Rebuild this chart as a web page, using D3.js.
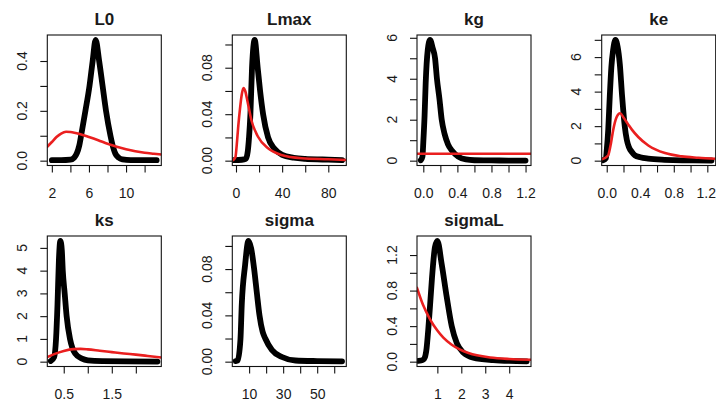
<!DOCTYPE html>
<html>
<head>
<meta charset="utf-8">
<script src="https://cdn.jsdelivr.net/npm/d3@7"></script>
<style>
  html, body { margin: 0; padding: 0; background: #fff; }
  svg { display: block; }
  text { font-family: "Liberation Sans", Arial, Helvetica, sans-serif; fill: #1a1a1a; }
</style>
</head>
<body>
<svg id="chart" width="716" height="403"></svg>
<script>
// ---------- panel names ----------
const panelNames = ["L0", "Lmax", "kg", "ke", "ks", "sigma", "sigmaL"];

// ---------- posterior (black) series ----------
const L0_postX = [2, 3, 4, 4.4, 4.7, 4.95, 5.2, 5.62, 6.06, 6.4, 6.72, 7.1, 7.47, 7.84, 8.32, 8.6, 8.85, 9.2, 9.6, 10.5, 12, 13.3];
const L0_postY = [0.002, 0.002, 0.004, 0.012, 0.03, 0.06, 0.11, 0.2, 0.3, 0.4, 0.485, 0.4, 0.3, 0.2, 0.1, 0.055, 0.028, 0.012, 0.005, 0.002, 0.002, 0.002];
const Lmax_postX = [-2, 5, 8.5, 10.2, 11.3, 12.5, 13.9, 16.2, 18.8, 20.9, 23.5, 27.8, 33.6, 40, 50, 60, 75, 92];
const Lmax_postY = [0.0005, 0.0008, 0.0015, 0.008, 0.02, 0.04, 0.08, 0.104, 0.08, 0.06, 0.04, 0.02, 0.01, 0.005, 0.0025, 0.0015, 0.001, 0.0005];
const kg_postX = [-0.03, -0.01, 0.0, 0.015, 0.028, 0.052, 0.079, 0.11, 0.138, 0.16, 0.19, 0.216, 0.25, 0.29, 0.334, 0.41, 0.5, 0.6, 0.8, 1.0, 1.2];
const kg_postY = [0.02, 0.2, 0.9, 2.2, 3.8, 5.4, 5.9, 5.5, 5.0, 4.0, 3.0, 2.0, 1.3, 0.8, 0.5, 0.2, 0.06, 0.02, 0.01, 0.005, 0.003];
const ke_postX = [-0.045, -0.01, 0.0, 0.018, 0.036, 0.055, 0.076, 0.104, 0.13, 0.156, 0.184, 0.216, 0.24, 0.264, 0.3, 0.336, 0.4, 0.495, 0.69, 0.9, 1.25];
const ke_postY = [0.02, 0.15, 0.6, 1.8, 3.7, 5.4, 6.4, 7.0, 6.6, 5.6, 3.7, 1.95, 1.2, 0.79, 0.5, 0.31, 0.2, 0.12, 0.05, 0.02, 0.01];
const ks_postX = [0.23, 0.3, 0.34, 0.37, 0.4, 0.43, 0.46, 0.48, 0.52, 0.56, 0.63, 0.68, 0.74, 0.88, 1.0, 1.3, 1.8, 2.45];
const ks_postY = [0.03, 0.2, 1.0, 2.5, 4.5, 5.31, 4.9, 4.0, 3.0, 2.0, 1.0, 0.6, 0.35, 0.13, 0.06, 0.02, 0.01, 0.005];
const sigma_postX = [2.1, 3.3, 4.9, 5.7, 7.6, 9.6, 11.2, 12.96, 14.5, 16.1, 17.9, 19.5, 23.4, 29.3, 37.2, 50, 64.6];
const sigma_postY = [0.0005, 0.001, 0.019, 0.05, 0.083, 0.1044, 0.098, 0.08, 0.06, 0.04, 0.026, 0.02, 0.01, 0.004, 0.001, 0.0005, 0.0003];
const sigmaL_postX = [0.21, 0.4, 0.48, 0.55, 0.62, 0.7, 0.77, 0.9, 1.0, 1.18, 1.39, 1.6, 1.81, 2.09, 2.5, 3.33, 4.0, 4.73];
const sigmaL_postY = [0.01, 0.02, 0.05, 0.15, 0.36, 0.65, 0.92, 1.29, 1.36, 1.1, 0.73, 0.4, 0.21, 0.1, 0.045, 0.018, 0.008, 0.004];

// ---------- prior (red) series ----------
const L0_priorX = [1.5, 2, 2.5, 3, 3.53, 4, 5, 6, 7, 8, 9, 10, 11, 12, 13, 13.8];
const L0_priorY = [0.056, 0.075, 0.095, 0.109, 0.116, 0.115, 0.107, 0.095, 0.082, 0.068, 0.056, 0.046, 0.038, 0.032, 0.028, 0.025];
const Lmax_priorX = [-2.6, -0.5, 0.6, 2, 3.5, 5, 6.5, 8, 10, 13.3, 19.1, 27.8, 39.4, 56.8, 80, 95.6];
const Lmax_priorY = [0.0005, 0.003, 0.013, 0.03, 0.045, 0.057, 0.0625, 0.06, 0.051, 0.035, 0.0206, 0.0106, 0.0049, 0.0021, 0.0012, 0.0006];
const kg_priorX = [-0.074, 1.264];
const kg_priorY = [0.335, 0.335];
const ke_priorX = [-0.065, 0.016, 0.05, 0.076, 0.116, 0.16, 0.2, 0.256, 0.3, 0.376, 0.496, 0.695, 0.894, 1.094, 1.3];
const ke_priorY = [0.06, 0.3, 1.0, 1.75, 2.5, 2.75, 2.5, 2.1, 1.8, 1.37, 0.88, 0.44, 0.25, 0.17, 0.11];
const ks_priorX = [0.158, 0.3, 0.5, 0.7, 0.85, 1.0, 1.25, 1.5, 1.75, 2.0, 2.25, 2.53];
const ks_priorY = [0.2, 0.33, 0.47, 0.55, 0.56, 0.54, 0.48, 0.42, 0.36, 0.31, 0.25, 0.18];
const sigmaL_priorX = [0.15, 0.4, 0.69, 1.0, 1.25, 1.6, 1.95, 2.3, 2.65, 3.2, 4.0, 4.91];
const sigmaL_priorY = [0.83, 0.64, 0.48, 0.35, 0.27, 0.19, 0.135, 0.098, 0.072, 0.047, 0.03, 0.022];

// ---------- x limits ----------
const L0_xlim = [1.51, 13.8];
const Lmax_xlim = [-3.2, 95.6];
const kg_xlim = [-0.074, 1.264];
const ke_xlim = [-0.06, 1.30];
const ks_xlim = [0.158, 2.53];
const sigma_xlim = [0.12, 67.1];
const sigmaL_xlim = [0.15, 4.91];

// ---------- ticks and labels ----------
const L0_xTicks = [2, 4, 6, 8, 10, 12];          const L0_xLabels = ["2", "", "6", "", "10", ""];
const L0_yTicks = [0, 0.1, 0.2, 0.3, 0.4];       const L0_yLabels = ["0.0", "", "0.2", "", "0.4"];
const Lmax_xTicks = [0, 20, 40, 60, 80];         const Lmax_xLabels = ["0", "", "40", "", "80"];
const Lmax_yTicks = [0, 0.02, 0.04, 0.06, 0.08, 0.10]; const Lmax_yLabels = ["0.00", "", "0.04", "", "0.08", ""];
const kg_xTicks = [0, 0.2, 0.4, 0.6, 0.8, 1.0, 1.2]; const kg_xLabels = ["0.0", "", "0.4", "", "0.8", "", "1.2"];
const kg_yTicks = [0, 1, 2, 3, 4, 5, 6];         const kg_yLabels = ["0", "", "2", "", "4", "", "6"];
const ke_xTicks = [0, 0.2, 0.4, 0.6, 0.8, 1.0, 1.2]; const ke_xLabels = ["0.0", "", "0.4", "", "0.8", "", "1.2"];
const ke_yTicks = [0, 1, 2, 3, 4, 5, 6, 7];      const ke_yLabels = ["0", "", "2", "", "4", "", "6", ""];
const ks_xTicks = [0.5, 1.0, 1.5, 2.0];          const ks_xLabels = ["0.5", "", "1.5", ""];
const ks_yTicks = [0, 1, 2, 3, 4, 5];            const ks_yLabels = ["0", "1", "2", "3", "4", "5"];
const sigma_xTicks = [10, 20, 30, 40, 50, 60];   const sigma_xLabels = ["10", "", "30", "", "50", ""];
const sigma_yTicks = [0, 0.02, 0.04, 0.06, 0.08, 0.10]; const sigma_yLabels = ["0.00", "", "0.04", "", "0.08", ""];
const sigmaL_xTicks = [1, 2, 3, 4];              const sigmaL_xLabels = ["1", "2", "3", "4"];
const sigmaL_yTicks = [0, 0.2, 0.4, 0.6, 0.8, 1.0, 1.2]; const sigmaL_yLabels = ["0.0", "", "0.4", "", "0.8", "", "1.2"];

// ---------- assemble ----------
const zip = (xs, ys) => xs.map((x, i) => ({x, y: ys[i]}));
const panels = [
  {name: "L0", post: zip(L0_postX, L0_postY), prior: zip(L0_priorX, L0_priorY), xlim: L0_xlim,
   xt: L0_xTicks, xl: L0_xLabels, yt: L0_yTicks, yl: L0_yLabels},
  {name: "Lmax", post: zip(Lmax_postX, Lmax_postY), prior: zip(Lmax_priorX, Lmax_priorY), xlim: Lmax_xlim,
   xt: Lmax_xTicks, xl: Lmax_xLabels, yt: Lmax_yTicks, yl: Lmax_yLabels},
  {name: "kg", post: zip(kg_postX, kg_postY), prior: zip(kg_priorX, kg_priorY), xlim: kg_xlim,
   xt: kg_xTicks, xl: kg_xLabels, yt: kg_yTicks, yl: kg_yLabels},
  {name: "ke", post: zip(ke_postX, ke_postY), prior: zip(ke_priorX, ke_priorY), xlim: ke_xlim,
   xt: ke_xTicks, xl: ke_xLabels, yt: ke_yTicks, yl: ke_yLabels},
  {name: "ks", post: zip(ks_postX, ks_postY), prior: zip(ks_priorX, ks_priorY), xlim: ks_xlim,
   xt: ks_xTicks, xl: ks_xLabels, yt: ks_yTicks, yl: ks_yLabels},
  {name: "sigma", post: zip(sigma_postX, sigma_postY), prior: null, xlim: sigma_xlim,
   xt: sigma_xTicks, xl: sigma_xLabels, yt: sigma_yTicks, yl: sigma_yLabels},
  {name: "sigmaL", post: zip(sigmaL_postX, sigmaL_postY), prior: zip(sigmaL_priorX, sigmaL_priorY), xlim: sigmaL_xlim,
   xt: sigmaL_xTicks, xl: sigmaL_xLabels, yt: sigmaL_yTicks, yl: sigmaL_yLabels}
];

// ---------- layout ----------
const W = 716;
const colLeft = [47.3, 232.3, 417, 601.7];
const rowTop = [35, 236];
const boxW = 114, boxH = 130.5;
const RED = "#ea1f1f";

const svg = d3.select("#chart");
svg.append("rect").attr("width", W).attr("height", 403).attr("fill", "#fff");

panels.forEach((p, i) => {
  const col = i % 4, row = Math.floor(i / 4);
  const L = colLeft[col], T = rowTop[row];
  const ymax = d3.max(p.post, d => d.y);
  const x = d3.scaleLinear().domain(p.xlim).range([L, L + boxW]);
  const y = d3.scaleLinear().domain([-0.04 * ymax, 1.04 * ymax]).range([T + boxH, T]);

  const g = svg.append("g");
  const clipId = "clip" + i;
  g.append("clipPath").attr("id", clipId)
    .append("rect").attr("x", L).attr("y", T).attr("width", boxW).attr("height", boxH);

  const line = d3.line().x(d => x(d.x)).y(d => y(d.y)).curve(d3.curveMonotoneX);
  const lines = g.append("g").attr("clip-path", `url(#${clipId})`);
  lines.append("path").datum(p.post).attr("d", line)
    .attr("fill", "none").attr("stroke", "#000").attr("stroke-width", 5.8)
    .attr("stroke-linecap", "round").attr("stroke-linejoin", "round");
  if (p.prior) {
    lines.append("path").datum(p.prior).attr("d", line)
      .attr("fill", "none").attr("stroke", RED).attr("stroke-width", 2.6)
      .attr("stroke-linecap", "round").attr("stroke-linejoin", "round");
  }

  // box
  g.append("rect").attr("x", L).attr("y", T).attr("width", boxW).attr("height", boxH)
    .attr("fill", "none").attr("stroke", "#111").attr("stroke-width", 1.1);

  // x axis
  const xAxis = d3.axisBottom(x).tickValues(p.xt).tickSize(7).tickPadding(15.5)
    .tickFormat((d, k) => p.xl[k]);
  const xg = g.append("g").attr("transform", `translate(0,${T + boxH})`).call(xAxis);
  xg.select(".domain").remove();
  xg.selectAll(".tick line").attr("stroke", "#111").attr("stroke-width", 1.1);
  xg.selectAll(".tick text").style("font-family", '"Liberation Sans", Arial, sans-serif')
    .style("font-size", "14px").attr("fill", "#1a1a1a")
    .each(function(d) {
      // keep labels inside the page edge
      const len = this.getComputedTextLength();
      const over = x(d) + len / 2 - (W - 0.5);
      if (over > 0) d3.select(this).attr("x", -over);
    });

  // y axis
  const yAxis = d3.axisLeft(y).tickValues(p.yt).tickSize(7).tickFormat("");
  const yg = g.append("g").attr("transform", `translate(${L},0)`).call(yAxis);
  yg.select(".domain").remove();
  yg.selectAll(".tick line").attr("stroke", "#111").attr("stroke-width", 1.1);
  g.selectAll(".ylab").data(p.yt).enter().append("text")
    .attr("transform", d => `translate(${L - 20.5},${y(d)}) rotate(-90)`)
    .attr("text-anchor", "middle")
    .style("font-size", "14px")
    .text((d, k) => p.yl[k]);

  // title
  g.append("text").attr("x", L + boxW / 2).attr("y", T - 10)
    .attr("text-anchor", "middle").style("font-weight", "bold").style("font-size", "17px")
    .text(p.name);
});
</script>
</body>
</html>
